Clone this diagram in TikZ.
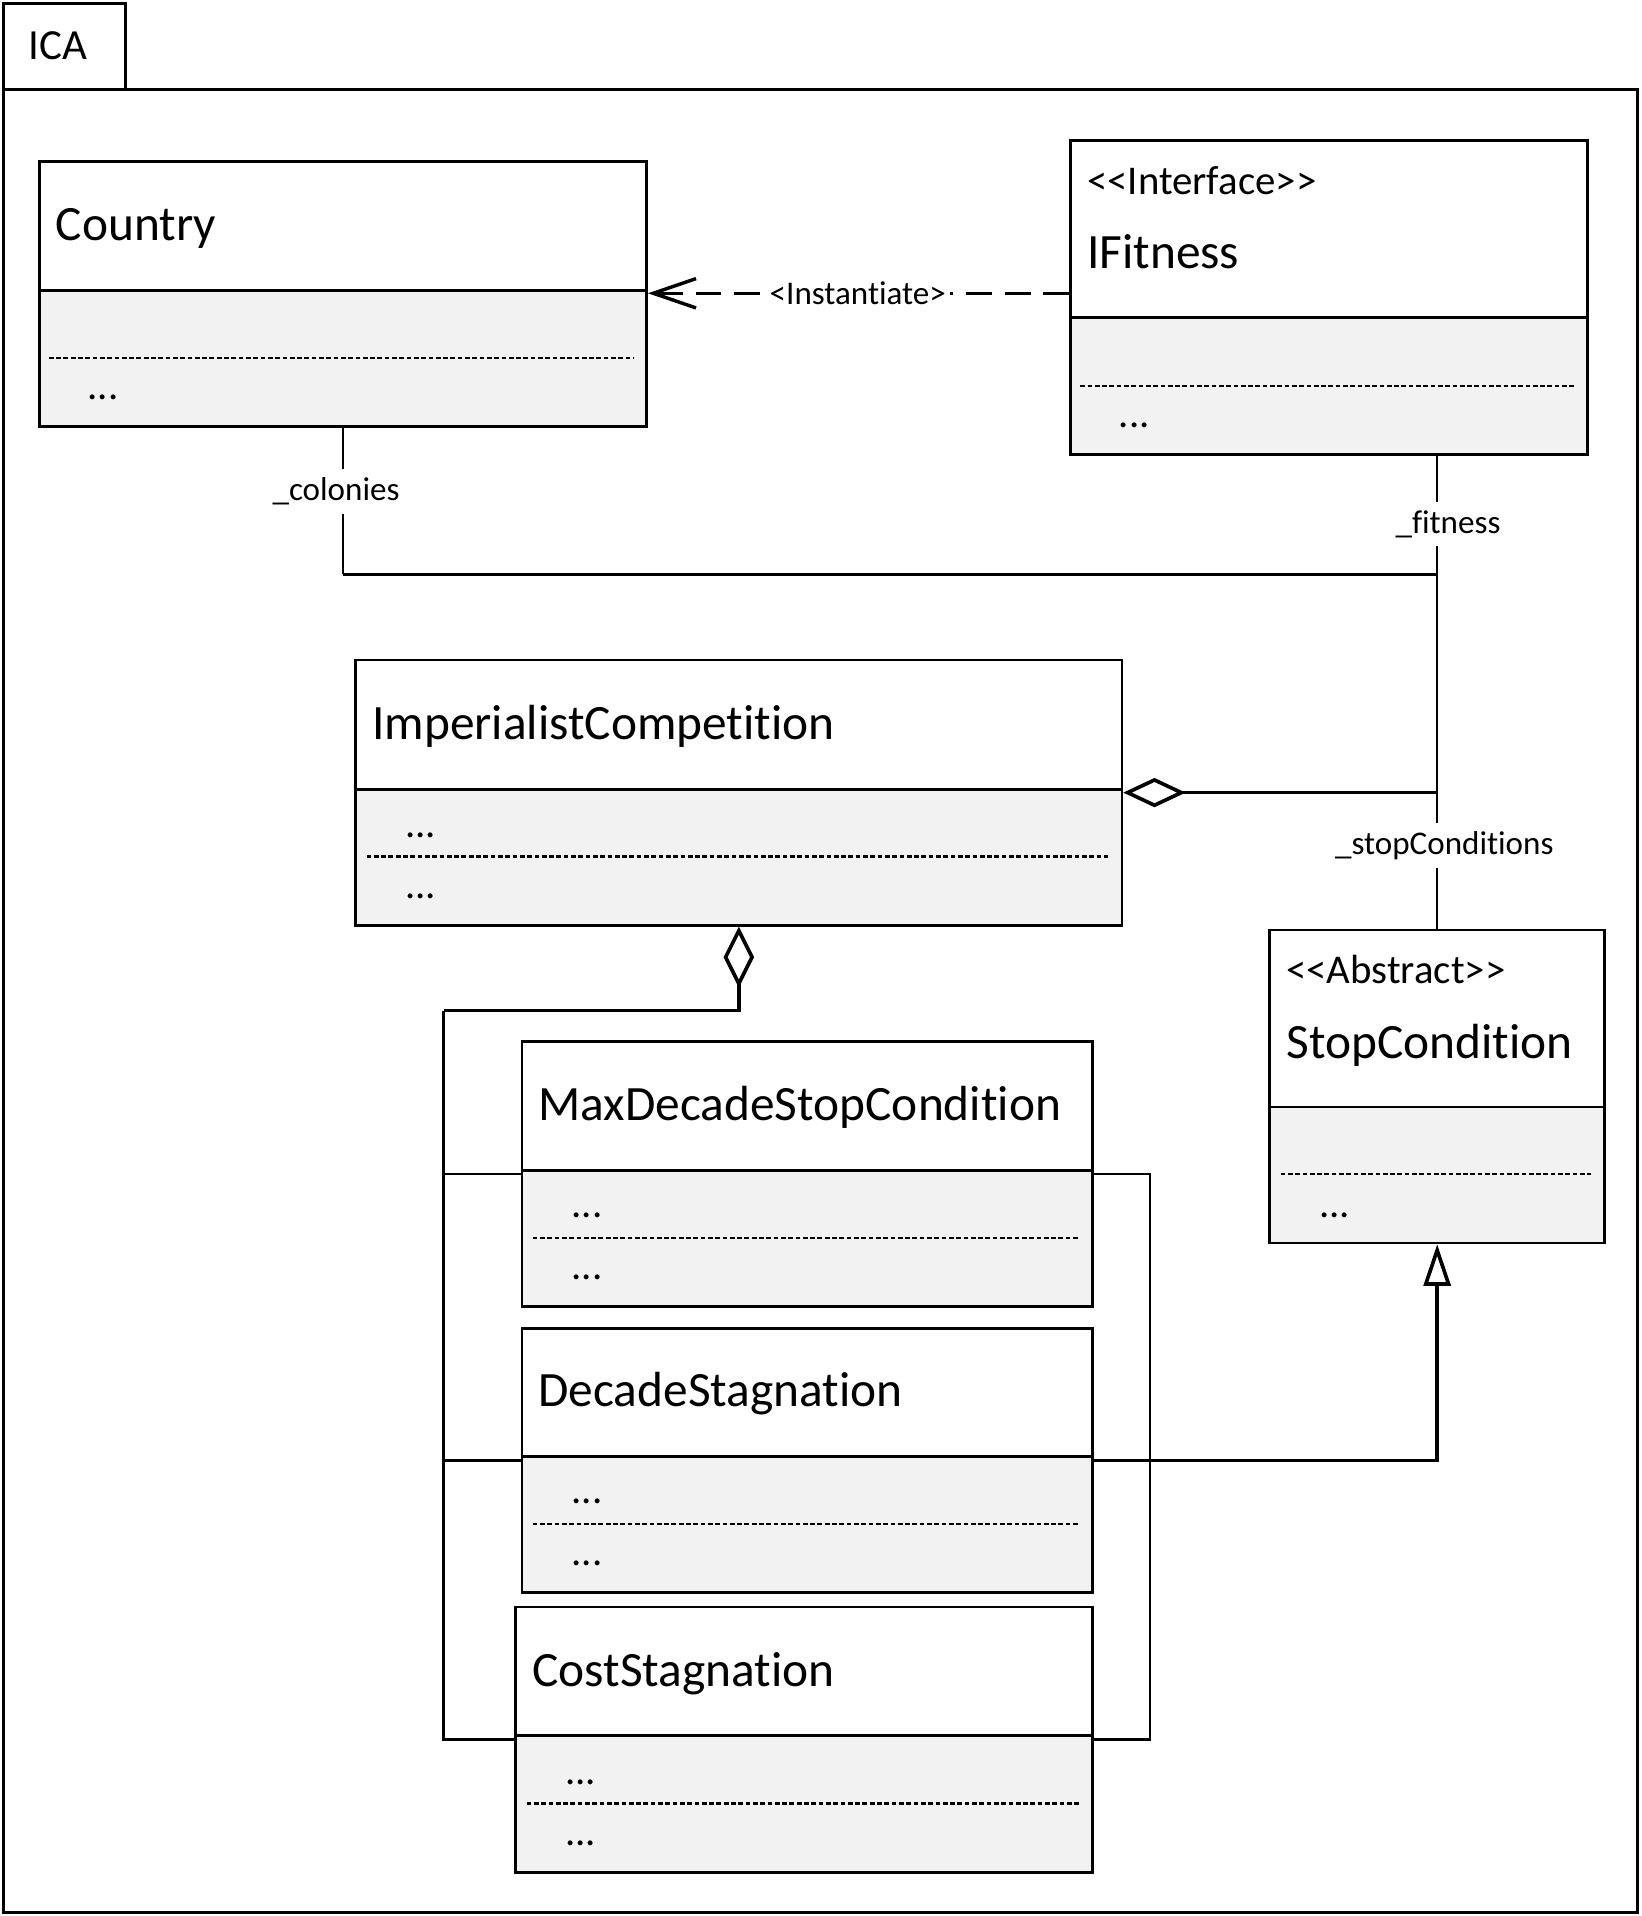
\documentclass[tikz,border=0pt]{standalone}
\usepackage{fontspec}
\setmainfont{Carlito}[Ligatures={TeXOff,CommonOff}]
\usetikzlibrary{arrows.meta}
\definecolor{compgray}{HTML}{F2F2F2}

\tikzset{
	classbox/.style={draw, line width=0.65pt, inner sep=0pt, anchor=north west},
	divider/.style={line width=0.65pt},
	memberline/.style={line width=0.55pt, dash pattern=on 1.1pt off 0.6pt},
	classname/.style={font=\fontsize{11.5}{13}\selectfont, inner sep=0pt, anchor=base west},
	stereotype/.style={font=\fontsize{9.5}{11}\selectfont, inner sep=0pt, anchor=base west},
	member/.style={font=\fontsize{9.5}{11}\selectfont, inner sep=0pt, anchor=base west},
	rolename/.style={font=\fontsize{7.7}{9}\selectfont, fill=white, inner sep=2pt},
	link/.style={line width=0.55pt},
	boldlink/.style={line width=0.85pt}
}

\begin{document}
\begin{tikzpicture}[x=0.1mm, y=-0.1mm]
	\useasboundingbox (0,0) rectangle (1343,1568);
	% package frame
	\draw[line width=0.7pt] (3,3) rectangle (103,73);
	\draw[line width=0.7pt] (3,73) rectangle (1340,1565);
	\node[classname, font=\fontsize{10}{12}\selectfont] (pkgname) at (23,49) {ICA};
	
	% Country
	\fill[compgray] (31,238) rectangle (528,348);
	\node[classbox, minimum width=49.7mm, minimum height=21.7mm] (country) at (31,131) {};
	\draw[divider] (31,238) -- (528,238);
	\draw[memberline] (40,293) -- (518,293);
	\node[classname] (countryname) at (45,197) {Country};
	\node[member] (countryops) at (71,327) {...};
	
	% IFitness
	\fill[compgray] (875,260) rectangle (1298,371);
	\node[classbox, minimum width=42.3mm, minimum height=25.7mm] (ifitness) at (875,114) {};
	\draw[divider] (875,260) -- (1298,260);
	\draw[memberline] (884,316) -- (1288,316);
	\node[stereotype] (ifitnessstereo) at (889,159) {<<Interface>>};
	\node[classname] (ifitnessname) at (889,220) {IFitness};
	\node[member] (ifitnessops) at (915,350) {...};
	
	% ImperialistCompetition
	\fill[compgray] (290,646) rectangle (917,756);
	\node[classbox, minimum width=62.7mm, minimum height=21.7mm] (imperial) at (290,539) {};
	\draw[divider] (290,646) -- (917,646);
	\draw[memberline] (300,701) -- (907,701);
	\node[classname] (imperialname) at (304,605) {ImperialistCompetition};
	\node[member] (imperialattr) at (331,685) {...};
	\node[member] (imperialops) at (331,735) {...};
	
	% StopCondition
	\fill[compgray] (1038,906) rectangle (1312,1016);
	\node[classbox, minimum width=27.4mm, minimum height=25.6mm] (stopcond) at (1038,760) {};
	\draw[divider] (1038,906) -- (1312,906);
	\draw[memberline] (1048,961) -- (1302,961);
	\node[stereotype] (stopstereo) at (1052,805) {<<Abstract>>};
	\node[classname] (stopname) at (1052,866) {StopCondition};
	\node[member] (stopops) at (1079,996) {...};
	
	% MaxDecadeStopCondition
	\fill[compgray] (426,958) rectangle (893,1068);
	\node[classbox, minimum width=46.7mm, minimum height=21.7mm] (maxdecade) at (426,851) {};
	\draw[divider] (426,958) -- (893,958);
	\draw[memberline] (436,1013) -- (883,1013);
	\node[classname] (maxdecadename) at (440,917) {MaxDecadeStopCondition};
	\node[member] (maxdecadeattr) at (467,996) {...};
	\node[member] (maxdecadeops) at (467,1047) {...};
	
	% DecadeStagnation
	\fill[compgray] (426,1192) rectangle (893,1302);
	\node[classbox, minimum width=46.7mm, minimum height=21.6mm] (decadestag) at (426,1086) {};
	\draw[divider] (426,1192) -- (893,1192);
	\draw[memberline] (436,1247) -- (883,1247);
	\node[classname] (decadestagname) at (440,1151) {DecadeStagnation};
	\node[member] (decadestagattr) at (467,1230) {...};
	\node[member] (decadestagops) at (467,1281) {...};
	
	% CostStagnation
	\fill[compgray] (421,1420) rectangle (893,1531);
	\node[classbox, minimum width=47.2mm, minimum height=21.7mm] (coststag) at (421,1314) {};
	\draw[divider] (421,1420) -- (893,1420);
	\draw[memberline] (431,1476) -- (883,1476);
	\node[classname] (coststagname) at (435,1380) {CostStagnation};
	\node[member] (coststagattr) at (462,1460) {...};
	\node[member] (coststagops) at (462,1510) {...};
	
	% connectors
	\coordinate (trunk) at (363,827);
	\coordinate (rail) at (941,960);
	\draw[line width=0.7pt, dash pattern=on 6pt off 3pt, -{Straight Barb[length=3.5mm,width=2.4mm,line width=0.8pt]}] (ifitness.west |- 0,240) -- (country.east |- 0,240);
	\draw[link] (country.south) -- (country.south |- 0,470);
	\draw[boldlink] (country.south |- 0,470) -- (stopcond.north |- 0,470);
	\draw[link] (stopcond.north |- ifitness.south) -- (stopcond.north);
	\draw[boldlink, {Diamond[open,length=5.1mm,width=2.4mm]}-] (imperial.east) -- (stopcond.north |- imperial.east);
	\draw[boldlink, {Diamond[open,length=5mm,width=2.5mm]}-] (imperial.south) -- (imperial.south |- trunk) -- (trunk);
	\draw[link] (trunk) -- (trunk |- coststag.west) -- (coststag.west);
	\draw[link] (trunk |- maxdecade.west) -- (maxdecade.west);
	\draw[link] (trunk |- decadestag.west) -- (decadestag.west);
	\draw[link] (maxdecade.east) -- (rail |- maxdecade.east) -- (rail |- coststag.east) -- (coststag.east);
	\draw[boldlink, -{Triangle[open,length=3.4mm,width=2.2mm]}] (decadestag.east) -| (stopcond.south);
	
	% role names
	\node[rolename, inner sep=1pt] (instlabel) at (702,240) {<Instantiate>};
	\node[rolename] (colonieslabel) at (275,402) {\_colonies};
	\node[rolename] (fitnesslabel) at (1185,429) {\_fitness};
	\node[rolename] (stoplabel) at (1182,692) {\_stopConditions};
\end{tikzpicture}
\end{document}
